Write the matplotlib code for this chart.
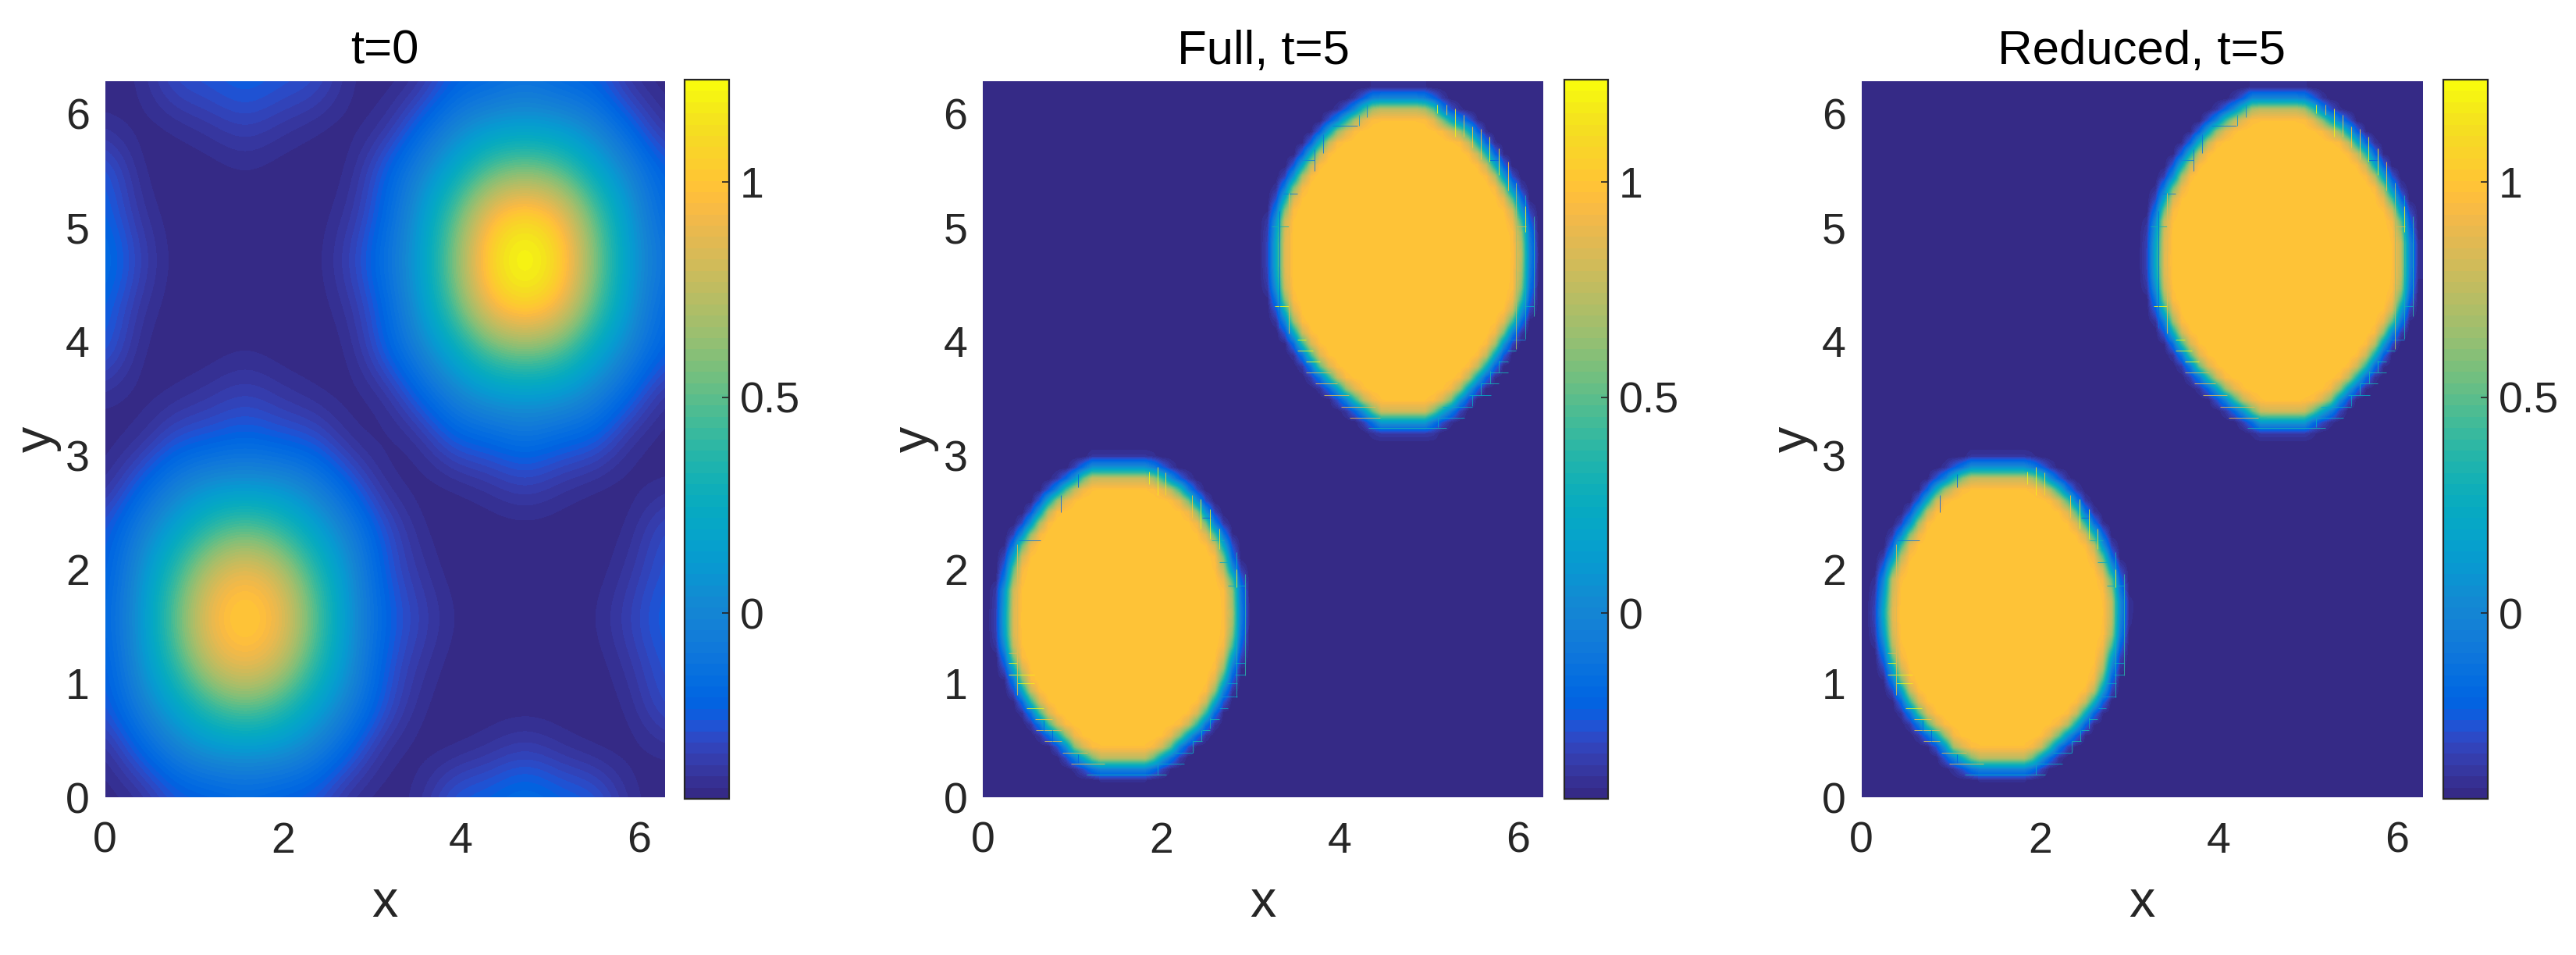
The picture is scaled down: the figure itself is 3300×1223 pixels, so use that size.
import matplotlib
matplotlib.use('Agg')
import matplotlib.pyplot as plt
from matplotlib.colors import ListedColormap, Normalize
from matplotlib.path import Path
import numpy as np

plt.rcParams['font.family'] = ['Liberation Sans', 'DejaVu Sans']

W, H = 3300, 1223

# parula, 64 levels
parula = [
    [0.2081, 0.1663, 0.5292], [0.2116, 0.1898, 0.5777], [0.2123, 0.2138, 0.6270], [0.2081, 0.2386, 0.6771],
    [0.1959, 0.2645, 0.7279], [0.1707, 0.2919, 0.7792], [0.1253, 0.3242, 0.8303], [0.0591, 0.3598, 0.8683],
    [0.0117, 0.3875, 0.8820], [0.0060, 0.4086, 0.8828], [0.0165, 0.4266, 0.8786], [0.0329, 0.4430, 0.8720],
    [0.0498, 0.4586, 0.8641], [0.0629, 0.4737, 0.8554], [0.0723, 0.4887, 0.8467], [0.0779, 0.5040, 0.8384],
    [0.0793, 0.5200, 0.8312], [0.0749, 0.5375, 0.8263], [0.0641, 0.5570, 0.8240], [0.0488, 0.5772, 0.8228],
    [0.0343, 0.5966, 0.8199], [0.0265, 0.6137, 0.8135], [0.0239, 0.6287, 0.8038], [0.0231, 0.6418, 0.7913],
    [0.0228, 0.6535, 0.7768], [0.0267, 0.6642, 0.7607], [0.0384, 0.6743, 0.7436], [0.0590, 0.6838, 0.7254],
    [0.0843, 0.6928, 0.7062], [0.1133, 0.7015, 0.6859], [0.1453, 0.7098, 0.6646], [0.1801, 0.7177, 0.6424],
    [0.2178, 0.7250, 0.6193], [0.2586, 0.7317, 0.5954], [0.3022, 0.7376, 0.5712], [0.3482, 0.7424, 0.5473],
    [0.3953, 0.7459, 0.5244], [0.4420, 0.7481, 0.5033], [0.4871, 0.7491, 0.4840], [0.5300, 0.7491, 0.4661],
    [0.5709, 0.7485, 0.4494], [0.6099, 0.7473, 0.4337], [0.6473, 0.7456, 0.4188], [0.6834, 0.7435, 0.4044],
    [0.7184, 0.7411, 0.3905], [0.7525, 0.7384, 0.3768], [0.7858, 0.7356, 0.3633], [0.8185, 0.7327, 0.3498],
    [0.8507, 0.7299, 0.3360], [0.8824, 0.7274, 0.3217], [0.9139, 0.7258, 0.3063], [0.9450, 0.7261, 0.2886],
    [0.9739, 0.7314, 0.2666], [0.9938, 0.7455, 0.2403], [0.9990, 0.7653, 0.2164], [0.9955, 0.7861, 0.1967],
    [0.9880, 0.8066, 0.1794], [0.9789, 0.8271, 0.1633], [0.9697, 0.8481, 0.1475], [0.9626, 0.8705, 0.1309],
    [0.9589, 0.8949, 0.1132], [0.9598, 0.9218, 0.0948], [0.9661, 0.9514, 0.0755], [0.9763, 0.9831, 0.0538],
]

c_min, c_max = -0.431, 1.237
domain = 6.283

titles = ['t=0', 'Full, t=5', 'Reduced, t=5']
axis_ticks = [0, 2, 4, 6]
y_ticks = [0, 1, 2, 3, 4, 5, 6]
cbar_ticks = [0, 0.5, 1]
cbar_labels = ['0', '0.5', '1']

# t=0 field, rows bottom to top, 17 x 17 nodes
u0 = [
    [-.43, -.41, -.27, -.25, -.20, -.25, -.27, -.41, -.43, -.40, -.22, -.20, -.12, -.20, -.22, -.40, -.43],
    [-.41, -.22, -.05, 0.06, 0.07, 0.06, -.05, -.22, -.41, -.43, -.42, -.38, -.32, -.38, -.42, -.43, -.41],
    [-.27, -.05, 0.17, 0.40, 0.52, 0.40, 0.17, -.05, -.27, -.41, -.43, -.43, -.43, -.43, -.43, -.41, -.27],
    [-.25, 0.06, 0.40, 0.80, 0.97, 0.80, 0.40, 0.06, -.25, -.37, -.43, -.43, -.43, -.43, -.43, -.37, -.25],
    [-.20, 0.07, 0.52, 0.97, 1.08, 0.97, 0.52, 0.07, -.20, -.32, -.41, -.43, -.43, -.43, -.41, -.32, -.20],
    [-.25, 0.06, 0.40, 0.80, 0.97, 0.80, 0.40, 0.06, -.25, -.37, -.43, -.43, -.43, -.43, -.43, -.37, -.25],
    [-.27, -.05, 0.17, 0.40, 0.52, 0.40, 0.17, -.05, -.27, -.41, -.43, -.43, -.43, -.43, -.43, -.41, -.27],
    [-.41, -.22, -.05, 0.06, 0.07, 0.06, -.05, -.22, -.41, -.43, -.42, -.38, -.32, -.38, -.42, -.43, -.41],
    [-.43, -.41, -.27, -.25, -.20, -.25, -.27, -.41, -.43, -.40, -.22, -.20, -.12, -.20, -.22, -.40, -.43],
    [-.40, -.43, -.41, -.37, -.32, -.37, -.41, -.43, -.40, -.20, -.02, 0.10, 0.12, 0.10, -.02, -.20, -.40],
    [-.22, -.42, -.43, -.43, -.41, -.43, -.43, -.42, -.22, -.02, 0.22, 0.50, 0.60, 0.50, 0.22, -.02, -.22],
    [-.20, -.38, -.43, -.43, -.43, -.43, -.43, -.38, -.20, 0.10, 0.50, 0.98, 1.14, 0.98, 0.50, 0.10, -.20],
    [-.12, -.32, -.43, -.43, -.43, -.43, -.43, -.32, -.12, 0.12, 0.60, 1.14, 1.30, 1.14, 0.60, 0.12, -.12],
    [-.20, -.38, -.43, -.43, -.43, -.43, -.43, -.38, -.20, 0.10, 0.50, 0.98, 1.14, 0.98, 0.50, 0.10, -.20],
    [-.22, -.42, -.43, -.43, -.41, -.43, -.43, -.42, -.22, -.02, 0.22, 0.50, 0.60, 0.50, 0.22, -.02, -.22],
    [-.40, -.43, -.41, -.37, -.32, -.37, -.41, -.43, -.40, -.20, -.02, 0.10, 0.12, 0.10, -.02, -.20, -.40],
    [-.43, -.41, -.27, -.25, -.20, -.25, -.27, -.41, -.43, -.40, -.22, -.20, -.12, -.20, -.22, -.40, -.43],
]

# outer edge of the blobs at t=5: y of the row, x of left and right edge
low_y = [.235, .349, .463, .578, .692, .806, .920, 1.035, 1.149, 1.263, 1.377, 1.491, 1.605, 1.719, 1.834,
         1.948, 2.062, 2.176, 2.290, 2.404, 2.519, 2.633, 2.747, 2.861, 2.918]
full_low_l = [1.277, 1.000, .884, .709, .592, .490, .402, .344, .286, .242, .213, .207, .207, .213, .219,
              .257, .286, .330, .402, .505, .607, .709, .884, 1.088, 1.204]
full_low_r = [1.861, 2.108, 2.254, 2.429, 2.546, 2.633, 2.706, 2.764, 2.808, 2.852, 2.881, 2.896, 2.901, 2.896, 2.890,
              2.852, 2.793, 2.764, 2.706, 2.604, 2.516, 2.400, 2.254, 2.021, 1.875]
red_low_l = [1.273, .981, .879, .704, .588, .486, .413, .340, .296, .252, .223, .209, .200, .209, .223,
             .238, .296, .354, .413, .515, .602, .704, .821, 1.040, 1.215]
red_low_r = [1.871, 2.089, 2.235, 2.410, 2.527, 2.643, 2.731, 2.775, 2.818, 2.848, 2.891, 2.906, 2.912, 2.912, 2.891,
             2.862, 2.804, 2.745, 2.687, 2.585, 2.483, 2.381, 2.235, 2.031, 1.871]

high_y = [3.260, 3.294, 3.386, 3.500, 3.614, 3.728, 3.842, 3.957, 4.071, 4.185, 4.299, 4.413, 4.527, 4.642,
          4.756, 4.870, 4.984, 5.098, 5.212, 5.327, 5.441, 5.555, 5.669, 5.783, 5.897, 6.011, 6.103, 6.148]
full_high_l = [4.412, 4.383, 4.223, 4.033, 3.873, 3.727, 3.625, 3.523, 3.435, 3.368, 3.319, 3.275, 3.255, 3.246,
               3.246, 3.246, 3.255, 3.269, 3.319, 3.368, 3.450, 3.537, 3.640, 3.756, 3.888, 4.092, 4.267, 4.383]
full_high_r = [5.025, 5.054, 5.258, 5.404, 5.535, 5.666, 5.768, 5.856, 5.943, 6.031, 6.083, 6.118, 6.133, 6.139,
               6.144, 6.139, 6.127, 6.089, 6.045, 5.972, 5.885, 5.797, 5.695, 5.579, 5.462, 5.200, 5.083, 4.937]
red_high_l = [4.422, 4.393, 4.218, 4.029, 3.868, 3.723, 3.620, 3.518, 3.431, 3.373, 3.314, 3.279, 3.256, 3.247,
              3.247, 3.250, 3.262, 3.279, 3.329, 3.373, 3.460, 3.533, 3.635, 3.752, 3.883, 4.072, 4.276, 4.364]
red_high_r = [5.006, 5.035, 5.268, 5.399, 5.545, 5.676, 5.778, 5.866, 5.953, 6.041, 6.084, 6.128, 6.143, 6.149,
              6.149, 6.149, 6.128, 6.099, 6.041, 5.968, 5.895, 5.793, 5.705, 5.574, 5.443, 5.210, 5.064, 4.947]

# value against distance from the outer edge, negative is just outside it
ramp_dist = [-.10, -.05, -.02, .01, .04, .07, .11, .17, .25]
ramp_val = [-.431, -.30, -.18, -.02, .20, .48, .75, .95, 1.0]

# thin streaks along the cell lines at the blob edge (x0, x1, y, value) and (x, y0, y1, value)
h_streaks = [
    (1.16, 2.06, .196, .3), (.985, 1.365, .292, .9), (1.875, 2.254, .292, .2), (.892, 1.175, .388, .9),
    (2.15, 2.356, .388, .2), (.694, .883, .491, .8), (2.356, 2.458, .491, .3), (.592, .883, .587, .8),
    (2.458, 2.546, .587, .3), (.586, .78, .685, 1.0), (2.546, 2.648, .685, .3), (.49, .68, .783, 1.2),
    (2.65, 2.744, .783, .2), (.388, .577, 1.0, 1.2), (.291, .577, 1.075, 1.2), (.291, .388, 1.176, 1.2),
    (.291, .388, 1.27, .9), (2.648, 2.852, .881, .1), (2.74, 2.852, 1.0, .2), (2.83, 2.94, 1.075, .2),
    (2.83, 2.94, 1.176, .2), (.402, .65, 2.256, -.1), (2.46, 2.56, 2.45, -.25), (2.56, 2.706, 2.256, .3),
    (2.648, 2.764, 2.06, .2), (2.75, 2.94, 1.86, .2),
    (4.325, 5.2, 3.238, .3), (4.112, 4.45, 3.333, .9), (5.1, 5.398, 3.333, .2), (4.02, 4.4, 3.429, .9),
    (5.15, 5.491, 3.429, .2), (3.823, 4.1, 3.532, .8), (5.45, 5.695, 3.532, .2), (3.727, 3.97, 3.628, .9),
    (5.58, 5.783, 3.628, .3), (3.625, 3.9, 3.724, .8), (5.69, 5.885, 3.724, .3), (3.625, 3.78, 3.824, 1.2),
    (5.78, 5.885, 3.824, .3), (3.523, 3.7, 3.922, 1.2), (5.88, 5.981, 3.922, .3),
    (3.523, 3.625, 4.018, 1.2), (5.885, 6.083, 4.018, 0), (3.275, 3.427, 4.31, 1.2), (6.074, 6.176, 4.31, .2),
    (3.24, 3.427, 5.007, .3), (5.97, 6.09, 5.007, .8), (3.567, 3.72, 5.593, 0), (3.922, 4.2, 5.89, -.1),
    (3.368, 3.523, 5.299, -.1), (5.68, 5.797, 5.593, -.2),
]
v_streaks = [
    (2.94, 1.07, 1.96, .4), (2.846, .875, 2.15, .3), (2.846, 1.84, 2.0, 1.2), (2.648, 2.176, 2.358, 1.1),
    (2.545, 2.267, 2.53, 1.2), (2.444, 2.358, 2.62, 1.2), (2.341, 2.45, 2.655, 1.0), (2.05, 2.655, 2.85, 1.1),
    (1.957, 2.655, 2.895, 1.2), (1.86, 2.747, 2.86, 1.2), (.388, .897, 2.22, .85), (.875, 2.5, 2.655, -.2),
    (1.07, 2.72, 2.84, -.2), (.685, .58, .68, -.2), (.78, .49, .59, -.2), (1.07, .30, .38, -.2),
    (2.545, .60, .70, .3), (2.45, .49, .59, .3), (2.356, .39, .49, .3), (1.957, .20, .29, .2),
    (3.328, 4.116, 5.144, -.15), (3.427, 4.07, 5.304, .85), (3.718, 5.498, 5.69, -.1), (3.817, 5.65, 5.817, -.1),
    (4.304, 5.97, 6.08, 0), (4.214, 5.89, 5.989, .1), (6.176, 4.219, 5.098, .4), (6.083, 4.025, 5.281, .3),
    (6.083, 4.96, 5.19, 1.2), (5.981, 3.934, 5.395, .7), (5.885, 5.327, 5.577, 1.0), (5.783, 5.463, 5.692, 1.2),
    (5.681, 5.577, 5.794, 1.2), (5.585, 5.6, 5.863, 1.0), (5.491, 5.703, 5.886, 1.0), (5.389, 5.794, 5.989, 1.0),
    (5.296, 5.794, 6.045, 1.2), (5.2, 5.988, 6.08, 1.0), (5.095, 6.0, 6.08, 1.2), (5.783, 3.73, 3.83, .3),
    (5.689, 3.63, 3.74, .3), (5.585, 3.53, 3.63, .3), (5.491, 3.43, 3.53, .2), (5.098, 3.25, 3.33, .2),
]

n_cells = 64


def blob_field(blobs):
    # blobs: list of (y, left, right) rows, gives the value on the 64 x 64 solver grid
    xs = (np.arange(n_cells) + .5) * domain / n_cells
    xx, yy = np.meshgrid(xs, xs)
    pts = np.column_stack([xx.ravel(), yy.ravel()])
    out = np.full(pts.shape[0], c_min)
    for rows_y, left, right in blobs:
        px = np.r_[left, right[::-1]]
        py = np.r_[rows_y, rows_y[::-1]]
        poly = np.column_stack([px, py])
        inside = Path(poly, closed=False).contains_points(pts)
        a = poly
        b = np.roll(poly, -1, axis=0)
        ab = b - a
        dist = np.full(pts.shape[0], 9.0)
        for k in range(len(a)):
            t = np.clip(((pts - a[k]) * ab[k]).sum(1) / (ab[k] ** 2).sum(), 0, 1)
            dist = np.minimum(dist, np.hypot(*(pts - a[k] - t[:, None] * ab[k]).T))
        dist[~inside] *= -1
        out = np.maximum(out, np.interp(dist, ramp_dist, ramp_val))
    return out.reshape(n_cells, n_cells)


fields = [
    np.array(u0),
    blob_field([(low_y, full_low_l, full_low_r), (high_y, full_high_l, full_high_r)]),
    blob_field([(low_y, red_low_l, red_low_r), (high_y, red_high_l, red_high_r)]),
]

ax_left = [134.5, 1259, 2384.5]
ax_right = [851, 1977, 3103]
cb_left = [877, 2004, 3129.5]
cb_right = [934, 2060, 3186.5]
ax_top, ax_bottom = 104, 1021
cb_top, cb_bottom = 102, 1023

cmap = ListedColormap(parula)
norm = Normalize(c_min, c_max)
dark = '#262626'

fig = plt.figure(figsize=(W / 100, H / 100), dpi=100)

for k in range(3):
    ax = fig.add_axes([ax_left[k] / W, 1 - ax_bottom / H, (ax_right[k] - ax_left[k]) / W, (ax_bottom - ax_top) / H])
    data = fields[k]
    if k == 0:
        step = domain / (data.shape[0] - 1)
        ext = [-step / 2, domain + step / 2, -step / 2, domain + step / 2]
        im = ax.imshow(data, origin='lower', extent=ext, cmap=cmap, norm=norm, aspect='auto', interpolation='bicubic')
    else:
        im = ax.imshow(data, origin='lower', extent=[0, domain, 0, domain], cmap=cmap, norm=norm, aspect='auto',
                       interpolation='bilinear')
        for x0, x1, y, val in h_streaks:
            ax.hlines(y, x0, x1, colors=[cmap(norm(val))], linewidth=0.6)
        for x, y0, y1, val in v_streaks:
            ax.vlines(x, y0, y1, colors=[cmap(norm(val))], linewidth=0.6)
    ax.set_xlim(0, domain)
    ax.set_ylim(0, domain)
    ax.set_xticks(axis_ticks)
    ax.set_yticks(y_ticks)
    ax.tick_params(length=0, labelsize=40, colors=dark)
    ax.tick_params(axis='x', pad=22)
    ax.tick_params(axis='y', pad=14)
    for s in ax.spines.values():
        s.set_visible(False)
    ax.set_title(titles[k], fontsize=44.5, color='black', pad=16)
    ax.set_xlabel('x', fontsize=48, color=dark, labelpad=16)
    ax.set_ylabel('y', fontsize=48, color=dark, labelpad=4)

    cax = fig.add_axes([cb_left[k] / W, 1 - cb_bottom / H, (cb_right[k] - cb_left[k]) / W, (cb_bottom - cb_top) / H])
    cb = fig.colorbar(im, cax=cax, ticks=cbar_ticks)
    cb.set_ticklabels(cbar_labels)
    cb.ax.tick_params(direction='in', length=6.5, width=1.2, labelsize=40, colors=dark, pad=10)
    cb.outline.set_edgecolor(dark)
    cb.outline.set_linewidth(1.6)

fig.savefig('out.png', dpi=100)
